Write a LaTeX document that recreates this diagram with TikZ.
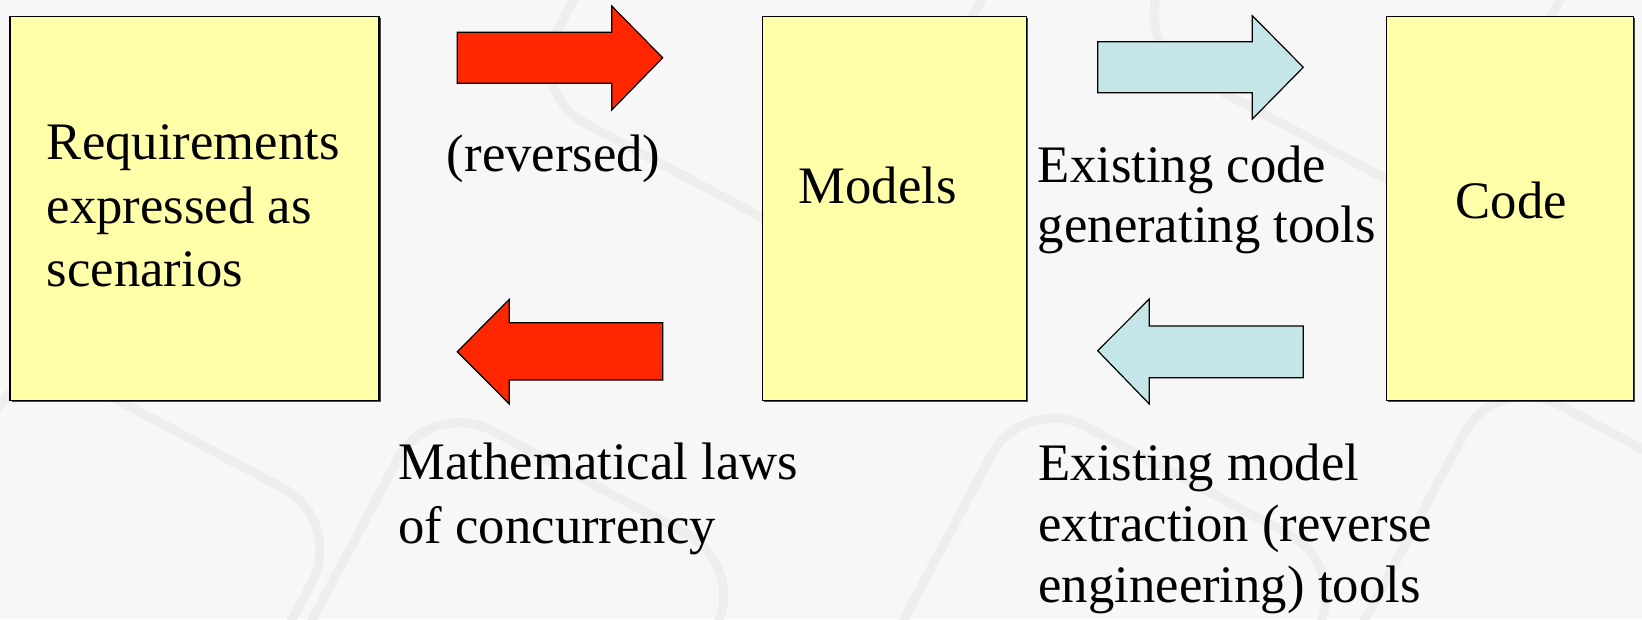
\documentclass[tikz,border=0pt]{standalone}
\usepackage{fontspec}
\setmainfont{Liberation Serif}
\usetikzlibrary{positioning,shadows}

\definecolor{boxyellow}{RGB}{255,255,170}
\definecolor{arrowred}{RGB}{255,38,0}
\definecolor{arrowblue}{RGB}{197,230,232}
\definecolor{bggray}{RGB}{247,247,247}
\definecolor{keygray}{RGB}{238,238,238}

\tikzset{
  box/.style={draw=black, line width=1.6pt, fill=boxyellow, anchor=north west,
    inner sep=0pt, minimum width=#1, minimum height=384pt,
    drop shadow={shadow xshift=1.8pt, shadow yshift=-1.8pt, opacity=0.7, fill=black}},
  lbl/.style={anchor=base west, inner sep=0pt, align=left,
    font=\fontsize{52.7}{63.5}\selectfont},
  keyline/.style={keygray, line width=9pt, rounded corners=70pt},
  redarrow/.style={fill=arrowred, draw=black, line width=1.2pt},
  bluearrow/.style={fill=arrowblue, draw=black, line width=1.2pt},
}

\begin{document}
\begin{tikzpicture}[x=1pt, y=-1pt]
  % 1. background with faint keyboard keys
  \fill[bggray] (0,0) rectangle (1642,619);
  \useasboundingbox (0,0) rectangle (1642,619);
  \begin{scope}
    \clip (0,0) rectangle (1642,619);
    \draw[keyline, rotate around={-28:(120,560)}] (-60,420) rectangle (300,800);
    \draw[keyline, rotate around={-28:(480,560)}] (360,440) rectangle (720,820);
    \draw[keyline, rotate around={-28:(1060,560)}] (950,430) rectangle (1320,820);
    \draw[keyline, rotate around={-28:(1520,520)}] (1430,400) rectangle (1800,800);
    \draw[keyline, rotate around={-28:(700,60)}] (560,-260) rectangle (920,170);
    \draw[keyline, rotate around={-28:(1300,20)}] (1160,-300) rectangle (1520,120);
  \end{scope}

  % 2. the three boxes (last line baseline used for the labels)
  \node[box=369pt] (req) at (9.3,15.7) {};
  \node[box=264pt] (models) at (761.7,15.7) {};
  \node[box=247pt] (code) at (1385.5,15.7) {};

  \node[lbl] (reqtxt) at (46.7,286.5) {Requirements\\expressed as\\scenarios};
  \node[lbl] (modelstxt) at (798.3,203.3) {Models};
  \node[lbl] (codetxt) at (1455.3,218.3) {Code};

  % 3. red arrows between requirements and models
  \draw[redarrow] (457.3,32.3) -- (611.7,32.3) -- (611.7,6) -- (662.7,57.8)
    -- (611.7,110) -- (611.7,83.3) -- (457.3,83.3) -- cycle;
  \draw[redarrow] (457.3,351.7) -- (509.3,299.3) -- (509.3,322.7) -- (662.7,322.7)
    -- (662.7,380) -- (509.3,380) -- (509.3,404) -- cycle;

  \node[lbl] (revtxt) at (446.7,171.7) {(reversed)};
  \node[lbl] (mathtxt) at (398.3,543) {Mathematical laws\\of concurrency};

  % 4. blue arrows between models and code
  \draw[bluearrow] (1097.7,41.7) -- (1252.3,41.7) -- (1252.3,15.7) -- (1303.3,67.3)
    -- (1252.3,119) -- (1252.3,92.7) -- (1097.7,92.7) -- cycle;
  \draw[bluearrow] (1097.7,350.7) -- (1149.3,299) -- (1149.3,326) -- (1303.3,326)
    -- (1303.3,377.7) -- (1149.3,377.7) -- (1149.3,404) -- cycle;

  \node[lbl, font=\fontsize{52.7}{60.5}\selectfont] (gentxt) at (1037.7,242.5)
    {Existing code\\generating tools};
  \node[lbl, font=\fontsize{52.7}{61}\selectfont] (extrtxt) at (1038.3,602)
    {Existing model\\extraction (reverse\\engineering) tools};
\end{tikzpicture}
\end{document}
